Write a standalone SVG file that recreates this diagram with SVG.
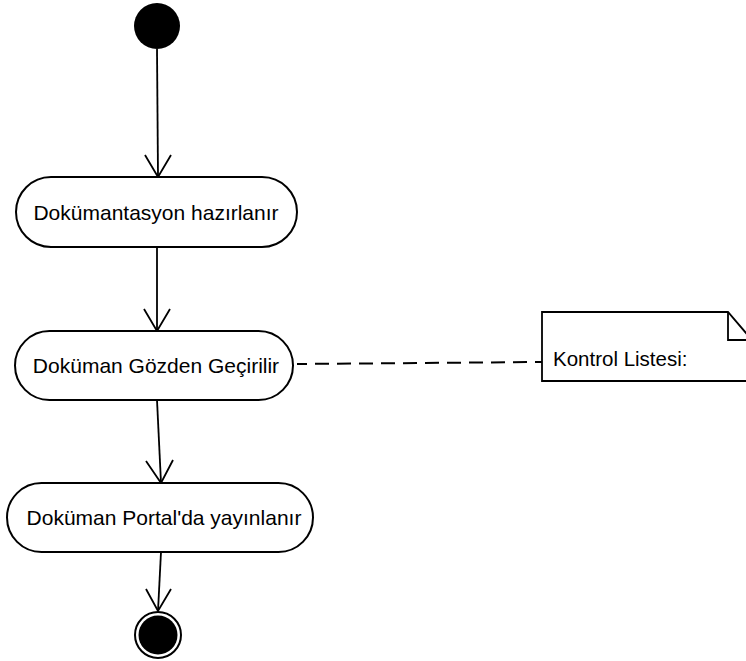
<svg xmlns="http://www.w3.org/2000/svg" width="746" height="661" viewBox="0 0 746 661">
  <style>
    .act { fill: #fff; stroke: #000; stroke-width: 2; }
    .lbl { font-family: "Liberation Sans", Arial, sans-serif; font-size: 21px; fill: #000; text-anchor: middle; }
    .flow { fill: none; stroke: #000; stroke-width: 1.8; }
    .head { fill: none; stroke: #000; stroke-width: 1.8; stroke-linejoin: miter; }
    .note { fill: #fff; stroke: #000; stroke-width: 1.8; }
  </style>
  <rect width="746" height="661" fill="#fff"/>

  <!-- transitions -->
  <g id="connectors">
    <line class="flow" x1="157" y1="49" x2="158" y2="177"/>
    <polyline class="head" points="145,155 158,177 171,155"/>

    <line class="flow" x1="157" y1="247" x2="157" y2="331"/>
    <polyline class="head" points="144,309 157,331 170,309"/>

    <line class="flow" x1="157" y1="400" x2="161" y2="483"/>
    <polyline class="head" points="146,461 161,483 173,460"/>

    <line class="flow" x1="161" y1="552" x2="158" y2="611"/>
    <polyline class="head" points="146,589 158,611 171,589"/>

    <!-- note anchor -->
    <line x1="297" y1="364" x2="542" y2="362" stroke="#000" stroke-width="2" stroke-dasharray="14 8" stroke-dashoffset="4"/>
  </g>

  <g id="start">
    <circle cx="157" cy="26" r="23" fill="#000"/>
  </g>

  <g id="act1">
    <rect class="act" x="16" y="177" width="281" height="70" rx="35" ry="35"/>
    <text class="lbl" x="156" y="220">Dokümantasyon hazırlanır</text>
  </g>

  <g id="act2">
    <rect class="act" x="15" y="331" width="278" height="69" rx="34.5" ry="34.5"/>
    <text class="lbl" x="156" y="373">Doküman Gözden Geçirilir</text>
  </g>

  <g id="act3">
    <rect class="act" x="7" y="483" width="306" height="69" rx="34.5" ry="34.5"/>
    <text class="lbl" x="164" y="525">Doküman Portal'da yayınlanır</text>
  </g>

  <g id="end">
    <circle cx="158" cy="635" r="23" fill="#fff" stroke="#000" stroke-width="2"/>
    <circle cx="158" cy="635" r="19.5" fill="#000"/>
  </g>

  <g id="note">
    <path class="note" d="M542,312 H728 L752,340 V381 H542 Z"/>
    <polyline fill="none" stroke="#000" stroke-width="1.8" points="728,312 728,340 752,340"/>
    <text x="553" y="366" font-family="Liberation Sans, Arial, sans-serif" font-size="20.5" fill="#000">Kontrol Listesi:</text>
  </g>
</svg>
